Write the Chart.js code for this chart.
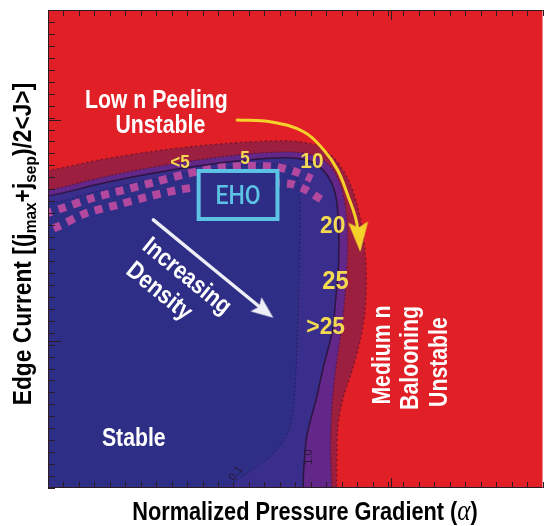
<!DOCTYPE html>
<html>
<head>
<meta charset="utf-8">
<script src="https://cdn.jsdelivr.net/npm/chart.js@4.4.1/dist/chart.umd.min.js"></script>
<style>
  html, body { margin: 0; padding: 0; background: #fff; }
  canvas { display: block; }
</style>
</head>
<body>
<canvas id="stability" width="550" height="526"></canvas>
<script>
// plot units: x = normalized pressure gradient 0..32, y = edge current 0..40
const X_MAX = 32, Y_MAX = 40;
const xMajorTicks = [0, 22.2];
const yMajorTicks = [12.3, 30.8, 40];

// contour boundaries [x, y]; each closes round the stable (lower-left) side
const redEdge = [[-2,26.6],[0,26.6],[3.31,27.45],[6.5,28.12],[9.69,28.62],[12.88,28.95],[15.74,29.04],[17.46,28.62],[18.61,27.45],[19.44,25.77],[20.01,23.68],[20.4,21.17],[20.59,18.24],[20.52,14.9],[20.2,12.38],[19.69,9.87],[19.06,7.36],[18.74,4.85],[18.67,0],[18.67,-2],[-2,-2]];
const darkEdge = [[-2,24.94],[0,24.94],[3.31,25.94],[6.5,26.78],[9.69,27.45],[12.88,27.95],[15.74,28.12],[17.34,27.78],[18.36,26.78],[18.99,25.1],[19.31,22.85],[19.38,19.92],[19.25,16.57],[18.99,13.22],[18.61,9.87],[18.36,6.53],[18.29,3.18],[18.36,0],[18.36,-2],[-2,-2]];
const contour10 = [[-2,24.44],[0,24.44],[3.31,25.44],[6.5,26.28],[9.69,26.95],[12.88,27.45],[15.74,27.62],[17.21,27.2],[18.1,26.11],[18.61,24.52],[18.8,22.01],[18.8,18.66],[18.61,15.73],[18.42,13.22],[17.85,10.29],[17.34,7.36],[16.76,4.44],[16.57,1.92],[16.51,0],[16.51,-2],[-2,-2]];
const contour01 = [[-2,23.77],[0,23.77],[3.31,24.85],[6.5,25.77],[9.69,26.53],[12.88,27.03],[15.11,27.11],[15.93,26.61],[16.25,25.36],[16.32,22.43],[16.25,17.41],[16.13,12.38],[15.93,7.36],[15.55,4.69],[14.47,2.76],[13.0,1.34],[11.73,0],[11.73,-2],[-2,-2]];

// EHO operating band (two staggered rows of squares)
const ehoUpper = [[-0.25,22.93],[0.96,23.43],[2.87,24.27],[4.91,24.94],[6.95,25.61],[8.92,26.28],[10.96,26.78],[12.88,26.95],[14.79,26.86],[16.06,26.44],[17.08,25.86]];
const ehoLower = [[-0.25,21.42],[0.57,21.84],[2.49,23.01],[4.46,23.68],[6.37,24.35],[8.41,24.94],[10.33,25.27],[12.24,25.44],[14.15,25.52],[15.74,25.44],[16.7,24.94],[17.72,24.1]];

// arrows
const peelArrow = [[12.24,30.79],[14.47,30.63],[16.57,29.79],[17.85,28.28],[18.74,26.61],[19.44,24.35],[19.89,22.68],[20.14,21.0]];
const densityArrow = [[6.82,22.43],[14.02,14.81]];

const ehoBox = { x0: 9.75, x1: 14.85, y0: 22.51, y1: 26.53 };

const WHITE = '#ffffff', YEL = '#f4da50', CYAN = '#5cc3e4', DARK = '#2a1838';
const notes = [
  { t: 'Low n Peeling', x: 7.01, y: 32.55, size: 25, color: WHITE },
  { t: 'Unstable', x: 7.27, y: 30.46, size: 25, color: WHITE },
  { t: 'Stable', x: 5.55, y: 4.27, size: 25, color: WHITE },
  { t: 'Increasing', x: 9.05, y: 17.82, size: 25, color: WHITE, rot: 39 },
  { t: 'Density', x: 7.27, y: 16.57, size: 25, color: WHITE, rot: 39 },
  { t: 'Medium n', x: 21.54, y: 11.13, size: 25, color: WHITE, rot: -90 },
  { t: 'Balooning', x: 23.39, y: 10.88, size: 25, color: WHITE, rot: -90 },
  { t: 'Unstable', x: 25.24, y: 10.54, size: 25, color: WHITE, rot: -90 },
  { t: '<5', x: 8.54, y: 27.36, size: 18, color: YEL, sx: 0.95 },
  { t: '5', x: 12.75, y: 27.62, size: 18, color: YEL, sx: 0.95 },
  { t: '10', x: 17.08, y: 27.45, size: 22, color: YEL, sx: 0.95 },
  { t: '20', x: 18.42, y: 22.09, size: 24, color: YEL, sx: 0.95 },
  { t: '25', x: 18.61, y: 17.41, size: 25, color: YEL, sx: 0.95 },
  { t: '>25', x: 17.97, y: 13.64, size: 24, color: YEL, sx: 0.95 },
  { t: 'EHO', x: 12.3, y: 24.52, size: 25, color: CYAN, weight: '500', family: 'Roboto, "Liberation Sans", sans-serif', sx: 0.92 },
  { t: '0.1', x: 12.11, y: 1.26, size: 11, color: DARK, rot: -52, weight: 'normal', sx: 1 },
  { t: '1.0', x: 16.83, y: 2.59, size: 11, color: DARK, rot: -90, weight: 'normal', sx: 1 }
];

const FONT = '"Liberation Sans", Arial, sans-serif';
const xy = pts => pts.map(p => ({ x: p[0], y: p[1] }));

function headImg(w, h, color) {
  const c = document.createElement('canvas');
  c.width = w; c.height = h;
  const g = c.getContext('2d');
  g.fillStyle = color;
  g.beginPath();
  g.moveTo(w / 2, 0);
  g.lineTo(w, h);
  g.lineTo(w / 2, h * 0.82);
  g.lineTo(0, h);
  g.closePath();
  g.fill();
  return c;
}

function band(pts, fillColor, lineColor, width, dash, order) {
  return {
    data: xy(pts), fill: 'shape', backgroundColor: fillColor,
    borderColor: lineColor, borderWidth: width, borderDash: dash,
    pointRadius: 0, tension: 0.3, order: order, clip: 0
  };
}

function arrow(pts, color, width, head, rot, order) {
  return {
    data: xy(pts), fill: false, borderColor: color, borderWidth: width,
    borderCapStyle: 'round', tension: 0.4, order: order, clip: 0,
    pointRadius: pts.map((p, i) => i === pts.length - 1 ? 1 : 0),
    pointStyle: head, pointRotation: rot
  };
}

function text(ctx, s, x, y, o) {
  ctx.save();
  ctx.translate(x, y);
  ctx.rotate((o.rot || 0) * Math.PI / 180);
  ctx.scale(o.sx || 0.85, 1);
  ctx.font = (o.weight || 'bold') + ' ' + o.size + 'px ' + (o.family || FONT);
  ctx.fillStyle = o.color;
  ctx.textAlign = 'center';
  ctx.textBaseline = 'alphabetic';
  ctx.fillText(s, 0, o.size * 0.36);
  ctx.restore();
}

const deco = {
  id: 'deco',
  beforeDatasetsDraw(chart) {
    const { ctx, chartArea: a } = chart;
    ctx.save();
    ctx.fillStyle = '#e11f27';
    ctx.fillRect(a.left, a.top, a.right - a.left, a.bottom - a.top);
    ctx.restore();
  },
  afterDatasetsDraw(chart) {
    const { ctx, scales: { x, y } } = chart;
    const bx0 = x.getPixelForValue(ehoBox.x0), bx1 = x.getPixelForValue(ehoBox.x1);
    const by0 = y.getPixelForValue(ehoBox.y1), by1 = y.getPixelForValue(ehoBox.y0);
    ctx.save();
    ctx.fillStyle = '#2d2d85';
    ctx.fillRect(bx0, by0, bx1 - bx0, by1 - by0);
    ctx.strokeStyle = CYAN;
    ctx.lineWidth = 4;
    ctx.strokeRect(bx0, by0, bx1 - bx0, by1 - by0);
    ctx.restore();
    notes.forEach(n => text(ctx, n.t, x.getPixelForValue(n.x), y.getPixelForValue(n.y), n));
  },
  afterDraw(chart) {
    const { ctx, chartArea: a, scales: { x, y } } = chart;
    ctx.save();
    ctx.strokeStyle = '#2b1b22';
    ctx.lineWidth = 1;
    ctx.beginPath();
    ctx.moveTo(a.left + 0.5, a.top); ctx.lineTo(a.left + 0.5, a.bottom);
    ctx.moveTo(a.left, a.top + 0.5); ctx.lineTo(a.right, a.top + 0.5);
    ctx.moveTo(a.left, a.bottom - 0.5); ctx.lineTo(a.right, a.bottom - 0.5);
    const xt = (v, L) => {
      const p = Math.round(x.getPixelForValue(v)) + 0.5;
      ctx.moveTo(p, a.top); ctx.lineTo(p, a.top + L);
      ctx.moveTo(p, a.bottom); ctx.lineTo(p, a.bottom - L);
    };
    const yt = (v, L) => {
      const p = Math.round(y.getPixelForValue(v)) + 0.5;
      ctx.moveTo(a.left, p); ctx.lineTo(a.left + L, p);
    };
    for (let v = 0; v <= X_MAX; v++) xt(v, 6);
    for (let v = 0; v <= Y_MAX; v++) yt(v, 7);
    xMajorTicks.forEach(v => xt(v, 10));
    yMajorTicks.forEach(v => yt(v, 13));
    ctx.stroke();
    ctx.restore();

    // x title
    ctx.save();
    const xs = [['Normalized Pressure Gradient (', 'bold 25px ' + FONT, 0], ['\u03b1', 'italic 29px "Liberation Serif", serif', 0], [')', 'bold 25px ' + FONT, 0]];
    ctx.translate(305, 520);
    ctx.scale(0.87, 1);
    ctx.fillStyle = '#000';
    ctx.textBaseline = 'alphabetic';
    let tw = 0;
    xs.forEach(p => { ctx.font = p[1]; tw += ctx.measureText(p[0]).width; });
    let cx = -tw / 2;
    xs.forEach(p => { ctx.font = p[1]; ctx.fillText(p[0], cx, p[2]); cx += ctx.measureText(p[0]).width; });
    ctx.restore();

    // y title
    ctx.save();
    const ys = [['Edge Current [(j', 25, 0], ['max', 17, 5], ['+j', 25, 0], ['sep', 17, 5], [')/2<J>]', 25, 0]];
    ctx.translate(31, 244);
    ctx.rotate(-Math.PI / 2);
    ctx.scale(0.91, 1);
    ctx.fillStyle = '#000';
    ctx.textBaseline = 'alphabetic';
    tw = 0;
    ys.forEach(p => { ctx.font = 'bold ' + p[1] + 'px ' + FONT; tw += ctx.measureText(p[0]).width; });
    cx = -tw / 2;
    ys.forEach(p => { ctx.font = 'bold ' + p[1] + 'px ' + FONT; ctx.fillText(p[0], cx, p[2]); cx += ctx.measureText(p[0]).width; });
    ctx.restore();
  }
};

new Chart(document.getElementById('stability'), {
  type: 'line',
  data: {
    datasets: [
      band(redEdge, '#9d1f40', 'rgba(110,20,40,0.8)', 1.5, [2, 3], 10),
      band(darkEdge, '#632789', 'rgba(90,20,55,0.8)', 1.2, [2, 2], 9),
      band(contour10, '#3a2e8c', '#2c1540', 1.5, [], 8),
      band(contour01, '#2e2e86', 'rgba(25,20,70,0.7)', 1, [1.5, 2.5], 7),
      { data: xy(ehoUpper), borderColor: '#b3489f', borderWidth: 8, borderDash: [8, 7], borderCapStyle: 'butt', pointRadius: 0, tension: 0.3, fill: false, order: 5, clip: 0 },
      { data: xy(ehoLower), borderColor: '#b3489f', borderWidth: 8, borderDash: [8, 7], borderDashOffset: 5, borderCapStyle: 'butt', pointRadius: 0, tension: 0.3, fill: false, order: 5, clip: 0 },
      arrow(peelArrow, '#f4d22a', 3, headImg(20, 30, '#f4d22a'), 176, 3),
      arrow(densityArrow, '#eeeef6', 3.5, headImg(18, 22, '#eeeef6'), 128, 2)
    ]
  },
  options: {
    responsive: false,
    animation: false,
    events: [],
    layout: { padding: { left: 48, top: 10, right: 0, bottom: 38 } },
    scales: {
      x: { type: 'linear', min: 0, max: X_MAX, display: false },
      y: { type: 'linear', min: 0, max: Y_MAX, display: false }
    },
    plugins: { legend: { display: false }, tooltip: { enabled: false } }
  },
  plugins: [deco]
});
</script>
</body>
</html>
